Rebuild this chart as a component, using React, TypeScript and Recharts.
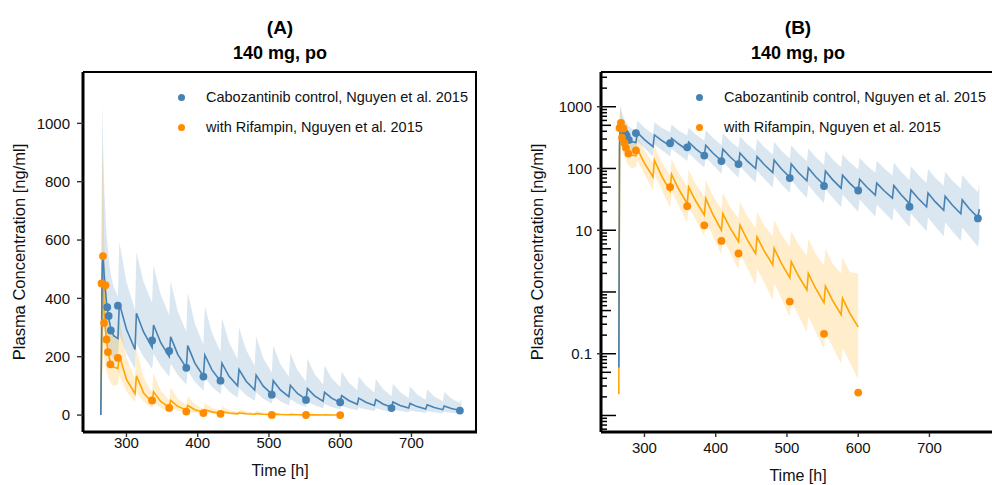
import React from "react";
import { ComposedChart, Line, Area, Scatter, XAxis, YAxis } from "recharts";

// simulated time grid [h]
const simTime = [
  264, 265, 266, 267, 269, 272, 275, 278, 282,
  288, 290, 300, 312, 314, 324, 336, 338, 348, 360, 362, 372,
  384, 386, 396, 408, 410, 420, 432, 434, 444, 456, 458, 468,
  480, 482, 492, 504, 506, 516, 528, 530, 540, 552, 554, 564,
  576, 578, 588, 600, 602, 612, 624, 626, 636, 648, 650, 660,
  672, 674, 684, 696, 698, 708, 720, 722, 732, 744, 746, 756,
  768, 770,
];

// cabozantinib control: median and 5-95% band
const ctrlSim = [
  0.06, 260, 520, 550, 470, 385, 335, 295, 272,
  262, 383, 294, 225, 349, 285, 232, 309, 249, 200, 268, 208,
  162, 238, 178, 133, 206, 155, 116, 178, 133, 100, 156, 116,
  86, 137, 99, 72, 118, 86, 63, 102, 74, 54, 91, 66,
  48, 78, 58, 43, 67, 50, 37, 58, 44, 33, 53, 38,
  27, 45, 33, 24, 40, 29, 21, 35.5, 25.6, 18.5, 31, 22.3,
  16, 22,
];
const ctrlLo = [
  0.05, 60, 250, 330, 300, 260, 230, 205, 192,
  189, 276, 212, 158, 244, 200, 158, 210, 169, 132, 177, 137,
  104, 152, 114, 83, 129, 97, 71, 109, 81, 59, 92, 68,
  49, 78, 56, 40, 65, 47, 33, 54, 39, 27.5, 46, 34,
  23.5, 38, 28, 20, 31.5, 23.5, 16.7, 26, 19.8, 14.4, 23, 16.5,
  11.2, 18.7, 13.7, 9.6, 16, 11.6, 8, 13.5, 9.7, 6.7, 11.2, 8,
  5.4, 7.5,
];
const ctrlHi = [
  0.08, 600, 1070, 950, 760, 620, 540, 480, 440,
  406, 594, 456, 360, 558, 456, 385, 513, 413, 342, 458, 356,
  285, 419, 313, 241, 373, 281, 217, 333, 249, 192, 300, 223,
  169, 270, 195, 145, 238, 174, 131, 212, 154, 115, 194, 141,
  105, 170, 126, 96, 149, 112, 85, 133, 101, 77, 124, 89,
  64.5, 107.5, 79, 58.5, 97.6, 70.8, 52.5, 88.8, 64, 47.2, 79, 56.9,
  41.6, 57.2,
];

// with rifampin (simulation stops at 600 h)
const rifSim = [
  0.022, 200, 470, 500, 330, 255, 205, 175, 165,
  160, 205, 122, 73, 135, 76, 43, 80, 46.5, 27, 50, 29.7,
  17.7, 32.7, 18.1, 10, 18.6, 11, 6.5, 12.1, 7.1, 4.2, 7.8, 4.63,
  2.75, 5.1, 2.94, 1.7, 3.1, 1.83, 1.08, 2.0, 1.16, 0.67, 1.24, 0.73,
  0.43, 0.79, 0.46, 0.27,
];
const rifLo = [
  0.02, 40, 200, 250, 190, 150, 125, 110, 100,
  106, 135, 80.5, 44, 81, 45.6, 23, 43, 25, 13.2, 24.5, 14.6,
  8, 14.7, 8.1, 4, 7.4, 4.4, 2.3, 4.2, 2.5, 1.3, 2.4, 1.43,
  0.74, 1.38, 0.79, 0.39, 0.71, 0.42, 0.22, 0.4, 0.23, 0.12, 0.22, 0.13,
  0.069, 0.126, 0.074, 0.038,
];
const rifHi = [
  0.03, 500, 915, 850, 560, 420, 340, 290, 270,
  256, 328, 195, 124, 230, 129, 77, 144, 84, 51, 95, 56,
  35, 65, 36, 22, 41, 24, 15.6, 29, 17, 10.9, 20, 12,
  8, 14.8, 8.5, 5.4, 9.9, 5.9, 3.9, 7.2, 4.2, 2.7, 5, 2.9,
  2.0, 3.6, 2.1, 2.0,
];

// observed data, Nguyen et al. 2015
const ctrlObsTime = [273, 275, 278, 288, 336, 360, 384, 408, 432, 504, 552, 600, 672, 768];
const ctrlObsConc = [370, 340, 290, 375, 256, 220, 162, 132, 118, 70, 52, 44, 24, 15.5];
const rifObsTime = [265, 267, 268.5, 270.5, 272, 274, 277.5, 288, 336, 360, 384, 408, 432, 504, 552, 600];
const rifObsConc = [451, 545, 316, 445, 259, 216, 174, 196, 50, 24.5, 12, 6.7, 4.2, 0.7, 0.21, 0.0235];

const xTicks = [300, 400, 500, 600, 700];
const linTicks = [0, 200, 400, 600, 800, 1000];
const logLabels = [0.1, 10, 100, 1000];
const logMajor = [0.01, 0.1, 1, 10, 100, 1000];
const logMid = [0.05, 0.5, 5, 50, 500];
const logMinor = [
  0.006, 0.007, 0.008, 0.009,
  0.02, 0.03, 0.04, 0.06, 0.07, 0.08, 0.09,
  0.2, 0.3, 0.4, 0.6, 0.7, 0.8, 0.9,
  2, 3, 4, 6, 7, 8, 9,
  20, 30, 40, 60, 70, 80, 90,
  200, 300, 400, 600, 700, 800, 900,
  2000, 3000,
];
const logTicks = [...logMajor, ...logMid, ...logMinor];

const rows = simTime.map((t, i) => ({
  t,
  ctrl: ctrlSim[i],
  ctrlBand: [ctrlLo[i], ctrlHi[i]],
  rif: i < rifSim.length ? rifSim[i] : null,
  rifBand: i < rifSim.length ? [rifLo[i], rifHi[i]] : null,
}));
const ctrlObs = ctrlObsTime.map((t, i) => ({ t, c: ctrlObsConc[i] }));
const rifObs = rifObsTime.map((t, i) => ({ t, c: rifObsConc[i] }));

const FONT = '"Liberation Sans", Arial, Helvetica, sans-serif';
const BLUE = "#4682B4";
const ORANGE_PT = "#FF8C00";
const ORANGE_LN = "#FFA500";

const H = 485;
const PLOT_TOP = 72;
const PLOT_BOTTOM = 432;
const PLOT_W = 394;

function Dot(color: string) {
  return (p: any) => <circle cx={p.cx} cy={p.cy} r={3.9} fill={color} />;
}

function Panel({ left, width, marginLeft, log, tickLabelY, letter }: any) {
  const ax = marginLeft + 55;
  const marginRight = width - ax - PLOT_W;
  const cx = left + ax + PLOT_W / 2;

  const yTick = (p: any) => {
    const v = p.payload.value;
    const y = p.y;
    if (!log) {
      return (
        <g>
          <line x1={ax - 6} x2={ax} y1={y} y2={y} stroke="#333" strokeWidth={1.4} />
          <text x={ax - 13} y={y} dy="0.36em" textAnchor="end" fontSize={15} fontFamily={FONT} fill="#111">
            {v}
          </text>
        </g>
      );
    }
    const len = logMajor.includes(v) ? 14 : logMid.includes(v) ? 9 : 5;
    const lab = logLabels.includes(v);
    return (
      <g>
        <line x1={ax + 1} x2={ax + 1 + len} y1={y} y2={y} stroke="#000" strokeWidth={1.5} />
        {lab && <line x1={ax - 4} x2={ax} y1={y} y2={y} stroke="#333" strokeWidth={1.5} />}
        {lab && (
          <text x={ax - 9} y={y} dy="0.36em" textAnchor="end" fontSize={15} fontFamily={FONT} fill="#111">
            {v}
          </text>
        )}
      </g>
    );
  };

  const xTick = (p: any) => (
    <g>
      <line x1={p.x} x2={p.x} y1={PLOT_BOTTOM + 1} y2={PLOT_BOTTOM + 5} stroke="#333" strokeWidth={1.4} />
      <text x={p.x} y={tickLabelY} dy="0.36em" textAnchor="middle" fontSize={15} fontFamily={FONT} fill="#111">
        {p.payload.value}
      </text>
    </g>
  );

  const legend = [
    { label: "Cabozantinib control, Nguyen et al. 2015", color: BLUE, y: 97 },
    { label: "with Rifampin, Nguyen et al. 2015", color: ORANGE_PT, y: 127 },
  ];
  const legDotX = left + ax + 98.5;

  return (
    <>
      <div style={{ position: "absolute", left, top: 0 }}>
        <ComposedChart
          width={width}
          height={H}
          data={rows}
          margin={{ top: PLOT_TOP, right: marginRight, bottom: 0, left: marginLeft }}
        >
          <XAxis
            dataKey="t"
            type="number"
            domain={[239, 792]}
            allowDataOverflow
            ticks={xTicks}
            interval={0}
            tick={xTick}
            tickLine={false}
            height={H - PLOT_BOTTOM}
            axisLine={{ stroke: "#000", strokeWidth: 3 }}
          />
          <YAxis
            type="number"
            scale={log ? "log" : "linear"}
            domain={log ? [0.0054, 3650] : [-58, 1176]}
            allowDataOverflow
            ticks={log ? logTicks : linTicks}
            interval={0}
            tick={yTick}
            tickLine={false}
            width={55}
            axisLine={{ stroke: "#000", strokeWidth: 3 }}
          />
          <Area
            dataKey="ctrlBand"
            type="linear"
            stroke="none"
            fill={BLUE}
            fillOpacity={0.2}
            isAnimationActive={false}
          />
          <Area
            dataKey="rifBand"
            type="linear"
            stroke="none"
            fill={ORANGE_LN}
            fillOpacity={0.2}
            isAnimationActive={false}
          />
          <Line dataKey="rif" type="linear" stroke={ORANGE_LN} strokeWidth={1.6} dot={false} isAnimationActive={false} />
          <Line dataKey="ctrl" type="linear" stroke={BLUE} strokeWidth={1.6} dot={false} isAnimationActive={false} />
          <Scatter data={ctrlObs} dataKey="c" shape={Dot(BLUE)} isAnimationActive={false} />
          <Scatter data={rifObs} dataKey="c" shape={Dot(ORANGE_PT)} isAnimationActive={false} />
        </ComposedChart>
      </div>

      {/* top and right frame */}
      <div
        style={{
          position: "absolute",
          left: left + ax,
          top: PLOT_TOP - 1,
          width: PLOT_W,
          height: PLOT_BOTTOM - PLOT_TOP + 1,
          borderTop: "2px solid #000",
          borderRight: "2px solid #000",
          boxSizing: "border-box",
          pointerEvents: "none",
        }}
      />

      <div style={{ position: "absolute", left: cx, top: 28, transform: "translate(-50%,-50%)", fontWeight: "bold", fontSize: 19, whiteSpace: "nowrap" }}>
        ({letter})
      </div>
      <div style={{ position: "absolute", left: cx, top: 53, transform: "translate(-50%,-50%)", fontWeight: "bold", fontSize: 18, whiteSpace: "nowrap" }}>
        140 mg, po
      </div>

      {legend.map((l) => (
        <React.Fragment key={l.label}>
          <div
            style={{
              position: "absolute",
              left: legDotX - 3.5,
              top: l.y - 3.5,
              width: 7,
              height: 7,
              borderRadius: "50%",
              background: l.color,
            }}
          />
          <div style={{ position: "absolute", left: legDotX + 24.5, top: l.y, transform: "translateY(-50%)", fontSize: 14.5, whiteSpace: "nowrap", color: "#111" }}>
            {l.label}
          </div>
        </React.Fragment>
      ))}

      <div style={{ position: "absolute", left: cx, top: tickLabelY + 28, transform: "translate(-50%,-50%)", fontSize: 16, whiteSpace: "nowrap", color: "#111" }}>
        Time [h]
      </div>
      <div
        style={{
          position: "absolute",
          left: left + marginLeft - 9,
          top: 252,
          transform: "translate(-50%,-50%) rotate(-90deg)",
          fontSize: 16.5,
          whiteSpace: "nowrap",
          color: "#111",
        }}
      >
        Plasma Concentration [ng/ml]
      </div>
    </>
  );
}

export default function App() {
  return (
    <div
      style={{
        position: "absolute",
        left: 0,
        top: 0,
        width: 992,
        height: H,
        overflow: "hidden",
        background: "#fff",
        fontFamily: FONT,
      }}
    >
      <Panel left={0} width={496} marginLeft={28} log={false} tickLabelY={443} letter="A" />
      <Panel left={496} width={510} marginLeft={50} log={true} tickLabelY={447.5} letter="B" />
    </div>
  );
}
